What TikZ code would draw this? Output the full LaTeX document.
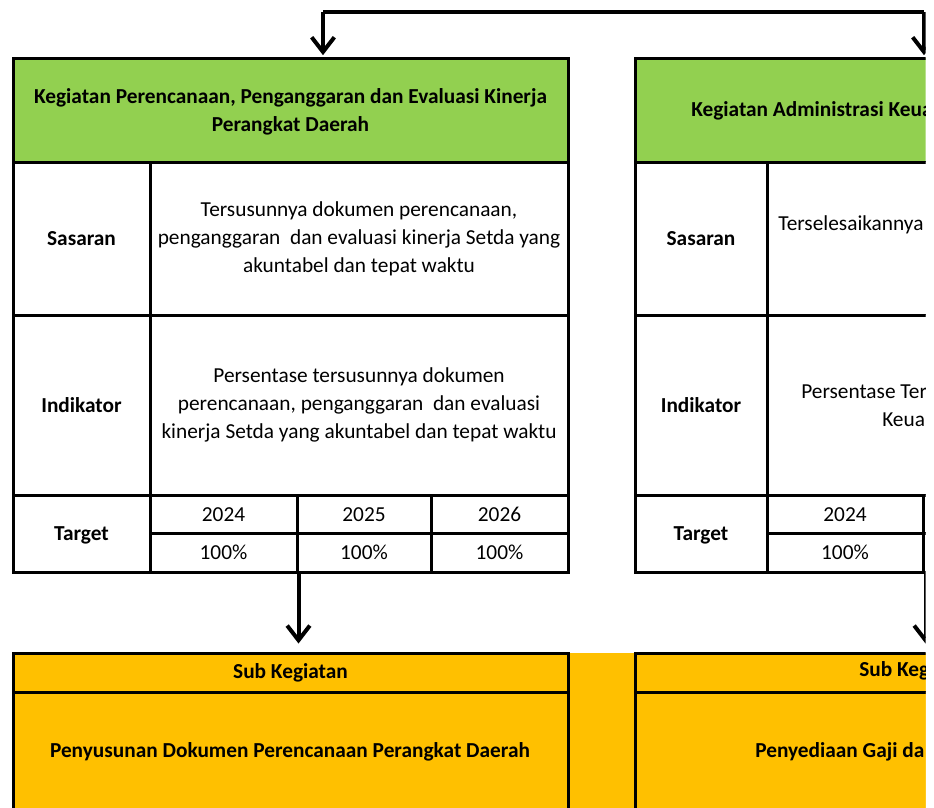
\documentclass[tikz,border=0pt]{standalone}
\usepackage{fontspec}
\setmainfont{Carlito}
\usetikzlibrary{arrows.meta,fit}
\definecolor{kgreen}{HTML}{92D050}
\definecolor{korange}{HTML}{FFC000}
\begin{document}
\begin{tikzpicture}[x=0.75pt,y=-0.75pt,
 cell/.style={draw=black, line width=2.25pt, inner sep=0pt},
 lbl/.style={font=\fontsize{16}{21}\selectfont\bfseries, align=center, inner sep=0pt},
 txt/.style={font=\fontsize{16}{21}\selectfont, align=center, inner sep=0pt},
 num/.style={font=\fontsize{16}{21}\selectfont, inner sep=0pt, text height=11pt, text depth=3pt, yshift=-1.5pt},
 arr/.style={line width=3pt, -{Straight Barb[length=11pt,width=17pt,line width=3pt]}}
]
\useasboundingbox (0,0) rectangle (934,807);
\clip (0,0) rectangle (925.5,807);
\fill[korange] (13,653) rectangle (960,840);
% ---------- left column ----------
\node[cell, fill=kgreen, fit={(13,58)(568,162)}] (lhead) {};
\node[lbl] (lheadt) at ([yshift=-1.5pt]lhead.center) {Kegiatan Perencanaan, Penganggaran dan Evaluasi Kinerja\\Perangkat Daerah};
\node[cell, fill=white, fit={(13,162)(150,315)}] (lsasl) {};
\node[lbl] (lsaslt) at (lsasl.center) {Sasaran};
\node[cell, fill=white, fit={(150,162)(568,315)}] (lsasv) {};
\node[txt] (lsasvt) at (lsasv.center) {Tersusunnya dokumen perencanaan,\\penganggaran\ \ dan evaluasi kinerja Setda yang\\akuntabel dan tepat waktu};
\node[cell, fill=white, fit={(13,315)(150,495)}] (lindl) {};
\node[lbl] (lindlt) at (lindl.center) {Indikator};
\node[cell, fill=white, fit={(150,315)(568,495)}] (lindv) {};
\node[txt] (lindvt) at (lindv.center) {Persentase tersusunnya dokumen\\perencanaan, penganggaran\ \ dan evaluasi\\kinerja Setda yang akuntabel dan tepat waktu};
\node[cell, fill=white, fit={(13,495)(150,572)}] (ltgl) {};
\node[lbl] (ltglt) at ([yshift=-1.5pt]ltgl.center) {Target};
\node[cell, fill=white, fit={(150,495)(297,533)}] (ly1) {};
\node[num] at (ly1.center) {2024};
\node[cell, fill=white, fit={(297,495)(431,533)}] (ly2) {};
\node[num] at (ly2.center) {2025};
\node[cell, fill=white, fit={(431,495)(568,533)}] (ly3) {};
\node[num] at (ly3.center) {2026};
\node[cell, fill=white, fit={(150,533)(297,572)}] (lv1) {};
\node[num] at (lv1.center) {100\%};
\node[cell, fill=white, fit={(297,533)(431,572)}] (lv2) {};
\node[num] at (lv2.center) {100\%};
\node[cell, fill=white, fit={(431,533)(568,572)}] (lv3) {};
\node[num] at (lv3.center) {100\%};
\node[cell, fill=korange, fit={(13,653)(568,692)}] (lsub) {};
\node[lbl] (lsubt) at (lsub.center) {Sub Kegiatan};
\node[cell, fill=korange, fit={(13,692)(568,840)}] (lsubv) {};
\node[lbl] (lsubvt) at (290,752) {Penyusunan Dokumen Perencanaan Perangkat Daerah};
% ---------- right column ----------
\node[cell, fill=kgreen, fit={(635,58)(980,162)}] (rhead) {};
\node[lbl, anchor=west] (rheadt) at (691,111) {Kegiatan Administrasi Keua};
\node[cell, fill=white, fit={(635,162)(767,315)}] (rsasl) {};
\node[lbl] (rsaslt) at (rsasl.center) {Sasaran};
\node[cell, fill=white, fit={(767,162)(980,315)}] (rsasv) {};
\node[txt, anchor=west] (rsasvt) at (778,225) {Terselesaikannya};
\node[cell, fill=white, fit={(635,315)(767,495)}] (rindl) {};
\node[lbl] (rindlt) at (rindl.center) {Indikator};
\node[cell, fill=white, fit={(767,315)(980,495)}] (rindv) {};
\node[txt, anchor=west] (rindvt1) at (801,392) {Persentase Ter};
\node[txt, anchor=west] (rindvt2) at (882,420) {Keua};
\node[cell, fill=white, fit={(635,495)(767,572)}] (rtgl) {};
\node[lbl] (rtglt) at ([yshift=-1.5pt]rtgl.center) {Target};
\node[cell, fill=white, fit={(767,495)(923,533)}] (ry1) {};
\node[num] at (ry1.center) {2024};
\node[cell, fill=white, fit={(923,495)(1060,533)}] (ry2) {};
\node[cell, fill=white, fit={(767,533)(923,572)}] (rv1) {};
\node[num] at (rv1.center) {100\%};
\node[cell, fill=white, fit={(923,533)(1060,572)}] (rv2) {};
\node[cell, fill=korange, fit={(635,653)(980,692)}] (rsub) {};
\node[lbl, anchor=west] (rsubt) at (859,671) {Sub Keg};
\node[cell, fill=korange, fit={(635,692)(980,840)}] (rsubv) {};
\node[lbl, anchor=west] (rsubvt) at (755,752) {Penyediaan Gaji da};
% ---------- connectors ----------
\coordinate (tl) at (323,12);
\coordinate (tr) at (924,12);
\draw[arr] (tl) -- ([yshift=1pt]tl |- lhead.north);
\draw[line width=3pt] (tl) -- (tr);
\draw[arr] (tr) -- ([yshift=1pt]tr |- rhead.north);
\draw[arr, shorten >=6pt] (lv1.south east) -- (lv1.south east |- lsub.north);
\draw[arr, shorten >=6pt] ([xshift=0.75pt]rv1.south east) -- ([xshift=0.75pt]rv1.south east |- rsub.north);
\end{tikzpicture}
\end{document}
